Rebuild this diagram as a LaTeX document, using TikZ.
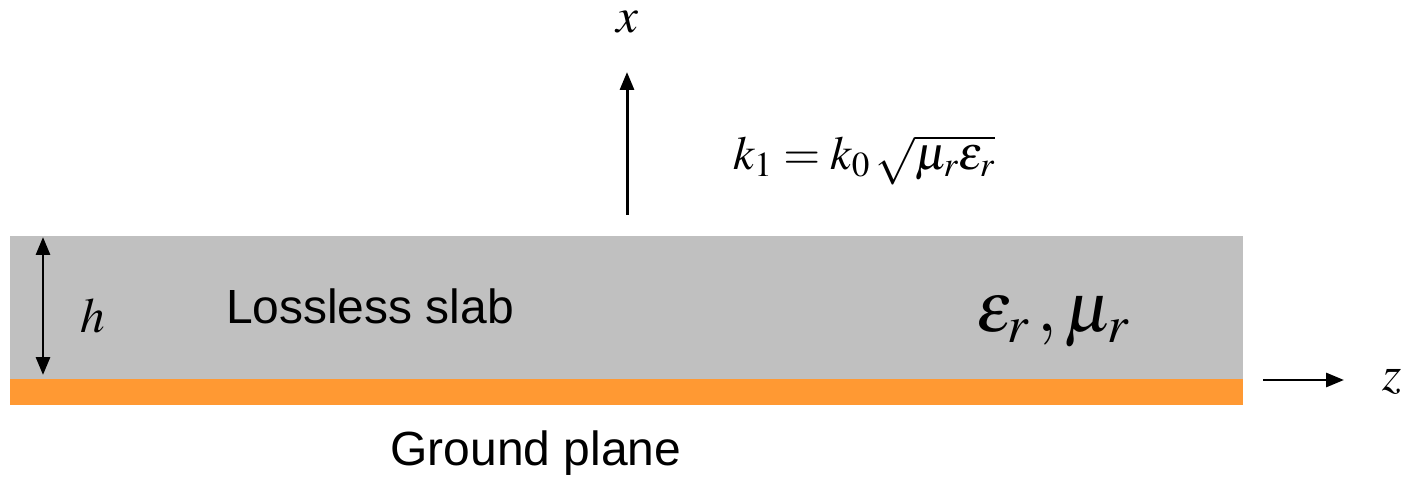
\documentclass[tikz,border=0pt]{standalone}
\usepackage{mathptmx}
\usepackage{fontspec}
\setmainfont{Liberation Serif}
\setsansfont{Liberation Sans}
\usetikzlibrary{arrows.meta}
\definecolor{slabgray}{HTML}{C0C0C0}
\definecolor{gndorange}{HTML}{FF9933}
\tikzset{
  axarrow/.style={line width=1.7pt,-{Triangle[length=0.36cm,width=0.28cm]}},
  dblarrow/.style={line width=1.7pt,{Triangle[length=0.36cm,width=0.28cm]}-{Triangle[length=0.36cm,width=0.28cm]}},
  lbl/.style={inner sep=0pt,font=\fontsize{28}{30}\selectfont},
  sanslbl/.style={inner sep=0pt,font=\sffamily\fontsize{27.3}{30}\selectfont},
}
\begin{document}
\begin{tikzpicture}[x=0.02cm,y=-0.02cm]
\useasboundingbox (0,0) rectangle (1408,479);
% slab and ground
\fill[slabgray] (10,236) rectangle (1243,379);
\fill[gndorange] (10,379) rectangle (1243,405);
% x axis arrow
\coordinate (xs) at (627,215);
\coordinate (xe) at (627,72);
\draw[axarrow] (xs) -- (xe);
\node[lbl] (xl) at (627,22) {$x$};
% formula
\node[inner sep=0pt,anchor=west,font=\fontsize{27}{30}\selectfont] (k1) at (733,160) {$k_1 = k_0\,\sqrt{\mu_r\varepsilon_r}$};
% h arrow
\coordinate (hs) at (43,237);
\coordinate (he) at (43,375);
\draw[dblarrow] (hs) -- (he);
\node[lbl] (hl) at (93,316) {$h$};
% labels
\node[sanslbl] (slab) at (370,306) {Lossless slab};
\node[sanslbl] (gnd) at (536,453) {Ground plane};
\node[inner sep=0pt,font=\fontsize{40}{44}\selectfont] (em) at (1053,322) {$\varepsilon_r\,,\mu_r$};
% z arrow
\coordinate (zs) at (1263,380);
\coordinate (ze) at (1344,380);
\draw[axarrow] (zs) -- (ze);
\node[lbl] (zl) at (1392,382) {$z$};
\end{tikzpicture}
\end{document}
